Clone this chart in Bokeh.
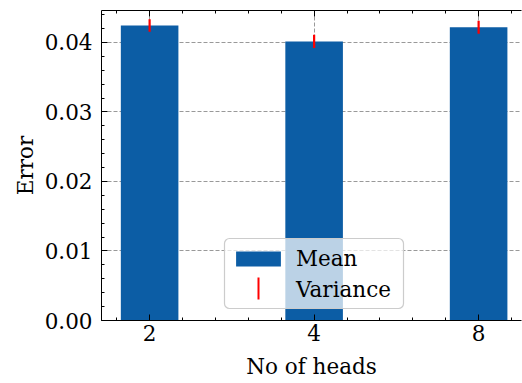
from bokeh.plotting import figure
from bokeh.models import (Range1d, FixedTicker, SingleIntervalTicker, LinearAxis,
                          NumeralTickFormatter, Legend, LegendItem, ColumnDataSource,
                          BoxAnnotation)
from bokeh.embed import file_html
from bokeh.resources import INLINE
import numpy as np

# ---- data ----
heads = ["2", "4", "8"]
mean_error = [0.04245, 0.04015, 0.0422]
variance = [0.0009, 0.00095, 0.00093]

xpos = list(range(len(heads)))
lower = [m - v for m, v in zip(mean_error, variance)]
upper = [m + v for m, v in zip(mean_error, variance)]

FONT = "DejaVu Serif"
FS = "21.5px"
BLUE = "#0C5DA5"

p = figure(width=522, height=383,
           x_range=Range1d(-0.2925, 2.2607), y_range=Range1d(0, 0.0446),
           output_backend="svg", toolbar_location=None,
           min_border_left=101, min_border_right=1, min_border_top=10, min_border_bottom=63)
p.outline_line_color = None
p.background_fill_color = "white"
p.border_fill_color = "white"

src = ColumnDataSource(dict(x=xpos, mean=mean_error, lower=lower, upper=upper))

bars = p.vbar(x="x", top="mean", bottom=0, width=0.35, source=src,
              fill_color=BLUE, line_color=None)
errs = p.segment(x0="x", x1="x", y0="lower", y1="upper", source=src,
                 line_color="red", line_width=2.2)
# renderer for the legend entry (draws no sample; a vertical stroke is added below)
var_proxy = p.vspan(x=[], line_color="red", line_width=2)

# tickers
xt = FixedTicker(ticks=xpos, minor_ticks=[round(v, 2) for v in np.arange(-0.4, 2.5, 0.2)])
yt = SingleIntervalTicker(interval=0.01, num_minor_ticks=5)

def style_axis(ax):
    ax.axis_line_color = "black"
    ax.axis_line_width = 1
    ax.major_tick_in = 6
    ax.major_tick_out = 0
    ax.minor_tick_in = 3
    ax.minor_tick_out = 0
    ax.major_tick_line_color = "black"
    ax.minor_tick_line_color = "black"
    ax.major_label_text_font = FONT
    ax.major_label_text_font_size = FS
    ax.major_label_text_color = "black"
    ax.axis_label_text_font = FONT
    ax.axis_label_text_font_size = FS
    ax.axis_label_text_font_style = "normal"
    ax.axis_label_text_color = "black"

xa = p.xaxis[0]
xa.ticker = xt
xa.major_label_overrides = {i: h for i, h in zip(xpos, heads)}
xa.axis_label = "No of heads"
style_axis(xa)
xa.major_label_standoff = 4
xa.axis_label_standoff = 10

ya = p.yaxis[0]
ya.ticker = yt
ya.formatter = NumeralTickFormatter(format="0.00")
ya.axis_label = "Error"
style_axis(ya)
ya.major_label_standoff = 9
ya.axis_label_standoff = 4

top = LinearAxis(ticker=xt)
style_axis(top)
top.major_label_overrides = {i: "" for i in xpos}
top.major_label_text_font_size = "1px"
top.major_label_standoff = 0
p.add_layout(top, "above")

p.xgrid.ticker = xt
p.ygrid.ticker = yt
for g in (p.xgrid[0], p.ygrid[0]):
    g.grid_line_color = "#999999"
    g.grid_line_dash = "4 2"
    g.grid_line_width = 1

# rounded legend frame (screen units, relative to the frame's bottom-left)
p.add_layout(BoxAnnotation(left=123, right=302, bottom=12, top=82,
                           left_units="screen", right_units="screen",
                           bottom_units="screen", top_units="screen",
                           fill_color="white", fill_alpha=0.72,
                           line_color="#cccccc", line_width=1.2, line_alpha=1.0,
                           border_radius=5, level="annotation"))

legend = Legend(items=[LegendItem(label="Mean", renderers=[bars]),
                       LegendItem(label="Variance", renderers=[var_proxy])],
                location=(123, 12), margin=0, padding=6, spacing=6,
                glyph_width=56, glyph_height=19, label_standoff=10,
                label_text_font=FONT, label_text_font_size=FS, label_text_color="black",
                border_line_color="#cccccc", border_line_alpha=0.0,
                background_fill_alpha=0.0)
p.add_layout(legend)

# vertical red stroke as the legend sample of "Variance"
p.add_layout(BoxAnnotation(left=156, right=158, bottom=21, top=43,
                           left_units="screen", right_units="screen",
                           bottom_units="screen", top_units="screen",
                           fill_color="red", fill_alpha=1.0, line_color=None,
                           level="overlay"))

open("out.html", "w").write(file_html(p, INLINE))
